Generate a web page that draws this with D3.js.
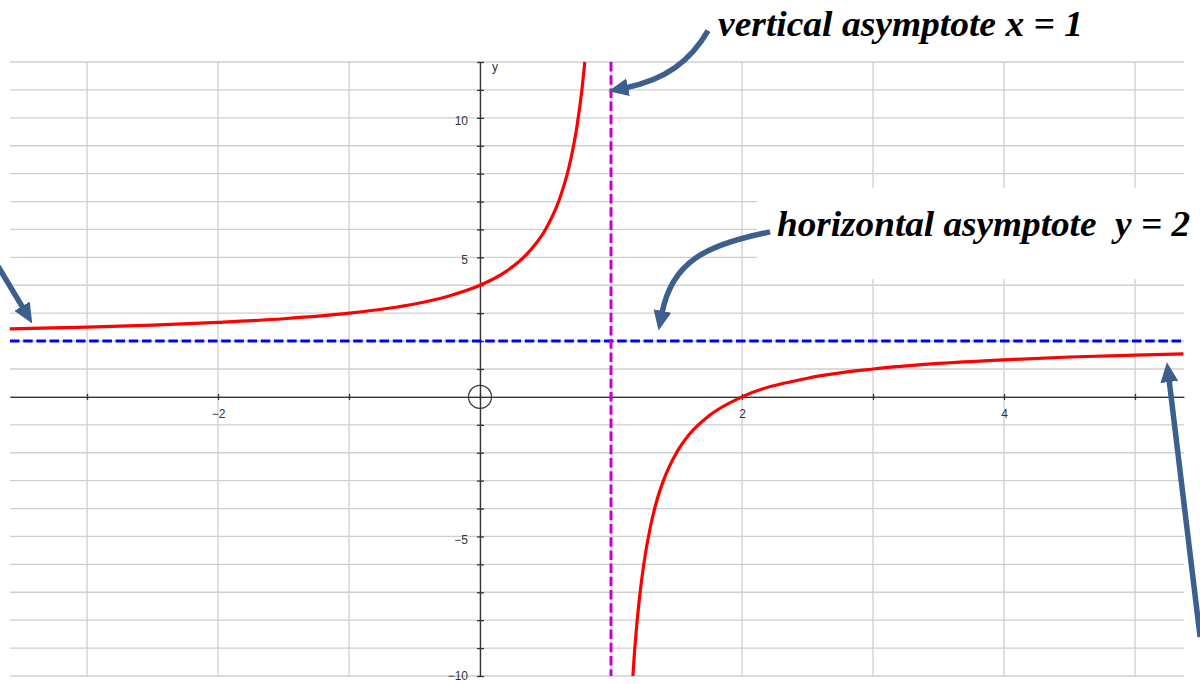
<!DOCTYPE html>
<html>
<head>
<meta charset="utf-8">
<script src="https://cdn.jsdelivr.net/npm/d3@7"></script>
<style>
  body { margin: 0; background: #fff; }
  svg { display: block; }
</style>
</head>
<body>
<div id="chart"></div>
<script>
// grid / ticks
const xTicks = [-3, -2, -1, 0, 1, 2, 3, 4, 5];
const xTickLabels = [-2, 2, 4];
const yTicks = [-10, -9, -8, -7, -6, -5, -4, -3, -2, -1, 0, 1, 2, 3, 4, 5, 6, 7, 8, 9, 10, 11, 12];
const yTickLabels = [-10, -5, 5, 10];

// curve, left branch (x < 1)
const leftX = [-3.59, -3, -2.5, -2, -1.5, -1, -0.5, -0.25, 0, 0.2, 0.35, 0.5, 0.6, 0.68, 0.74, 0.78, 0.8];
const leftY = [2.44, 2.5, 2.57, 2.67, 2.8, 3.0, 3.33, 3.6, 4.0, 4.5, 5.08, 6.0, 7.0, 8.25, 9.69, 11.09, 12.0];
// right branch (x > 1)
const rightX = [1.167, 1.18, 1.2, 1.22, 1.25, 1.3, 1.35, 1.4, 1.5, 1.6, 1.75, 2, 2.5, 3, 3.5, 4, 4.5, 5, 5.37];
const rightY = [-10.0, -9.11, -8.0, -7.09, -6.0, -4.67, -3.71, -3.0, -2.0, -1.33, -0.67, 0, 0.67, 1.0, 1.2, 1.33, 1.43, 1.5, 1.54];

// asymptotes
const vAsymptote = 1;
const hAsymptote = 2;

const width = 1200;
const height = 684;

const x = d3.scaleLinear().domain([-3.588, 5.374]).range([10, 1184]);
const y = d3.scaleLinear().domain([-10, 12]).range([676, 62]);

const svg = d3.select('#chart')
    .append('svg')
    .attr('width', width)
    .attr('height', height);

// grid
const grid = svg.append('g').attr('class', 'grid')
    .attr('stroke', '#cfcfcf')
    .attr('stroke-width', 1.3);

grid.selectAll('.vline')
    .data(xTicks)
    .enter()
    .append('line')
    .attr('class', 'vline')
    .attr('x1', function (d) { return x(d); })
    .attr('x2', function (d) { return x(d); })
    .attr('y1', y(12))
    .attr('y2', y(-10));

grid.selectAll('.hline')
    .data(yTicks)
    .enter()
    .append('line')
    .attr('class', 'hline')
    .attr('x1', x.range()[0])
    .attr('x2', x.range()[1])
    .attr('y1', function (d) { return y(d); })
    .attr('y2', function (d) { return y(d); });

// white box behind the horizontal asymptote note
svg.append('rect')
    .attr('x', 757)
    .attr('y', 188)
    .attr('width', width - 757)
    .attr('height', 91)
    .attr('fill', '#fff');

// axes
const xAxis = d3.axisBottom(x)
    .tickValues(xTicks)
    .tickSizeInner(3)
    .tickSizeOuter(0)
    .tickPadding(10)
    .tickFormat(function (d) {
        return xTickLabels.indexOf(d) >= 0 ? d3.format('')(d) : '';
    });

const yAxis = d3.axisLeft(y)
    .tickValues(yTicks.filter(function (d) { return d !== 0; }))
    .tickSizeInner(3)
    .tickSizeOuter(0)
    .tickPadding(9)
    .tickFormat(function (d) {
        return yTickLabels.indexOf(d) >= 0 ? d3.format('')(d) : '';
    });

const gx = svg.append('g')
    .attr('transform', 'translate(0,' + y(0) + ')')
    .call(xAxis);

const gy = svg.append('g')
    .attr('transform', 'translate(' + x(0) + ',0)')
    .call(yAxis);

[gx, gy].forEach(function (g) {
    g.select('.domain').attr('stroke', '#333').attr('stroke-width', 1.3);
    g.selectAll('.tick line').attr('stroke', '#333').attr('stroke-width', 1.3);
    g.selectAll('.tick text')
        .attr('fill', '#333')
        .style('font-family', 'Liberation Sans, Arial, sans-serif')
        .style('font-size', '12px');
});
gx.selectAll('.tick line').attr('y1', -3).attr('y2', 3);
gy.selectAll('.tick line').attr('x1', -3).attr('x2', 4);
gy.selectAll('.tick text').attr('dy', function (d) {
    // bottom label sits on the edge, keep it inside
    return d === -10 ? '0.3em' : '0.55em';
});

svg.append('text')
    .attr('x', x(0) + 12)
    .attr('y', y(12) + 9)
    .attr('fill', '#333')
    .style('font-family', 'Liberation Sans, Arial, sans-serif')
    .style('font-size', '12px')
    .text('y');

// origin marker
svg.append('circle')
    .attr('cx', x(0))
    .attr('cy', y(0))
    .attr('r', 11.5)
    .attr('fill', 'none')
    .attr('stroke', '#333')
    .attr('stroke-width', 1.2);

// asymptotes
svg.append('line')
    .attr('x1', x.range()[0])
    .attr('x2', x.range()[1])
    .attr('y1', y(hAsymptote))
    .attr('y2', y(hAsymptote))
    .attr('stroke', '#0000ff')
    .attr('stroke-width', 3)
    .attr('stroke-dasharray', '9.5,3.7');

svg.append('line')
    .attr('x1', x(vAsymptote))
    .attr('x2', x(vAsymptote))
    .attr('y1', y(12))
    .attr('y2', y(-10))
    .attr('stroke', '#cc00cc')
    .attr('stroke-width', 3)
    .attr('stroke-dasharray', '9.5,3.7');

// curve
const line = d3.line()
    .x(function (d) { return x(d[0]); })
    .y(function (d) { return y(d[1]); })
    .curve(d3.curveMonotoneX);

const branches = [d3.zip(leftX, leftY), d3.zip(rightX, rightY)];

svg.selectAll('.branch')
    .data(branches)
    .enter()
    .append('path')
    .attr('class', 'branch')
    .attr('d', line)
    .attr('fill', 'none')
    .attr('stroke', '#ff0000')
    .attr('stroke-width', 3.2);

// arrows: tip in data coords, path as pixel offsets from the tip
const arrowColor = '#3c5f8e';
svg.append('defs').append('marker')
    .attr('id', 'head')
    .attr('markerUnits', 'userSpaceOnUse')
    .attr('viewBox', '0 -10 20 20')
    .attr('refX', 2)
    .attr('refY', 0)
    .attr('markerWidth', 20)
    .attr('markerHeight', 20)
    .attr('orient', 'auto')
    .append('path')
    .attr('d', 'M0,-9L20,0L0,9Z')
    .attr('fill', arrowColor);

const arrows = [
    { tip: [0.985, 10.9], d: [[99, -62], [81, -31], [56, -13], [17, -5]] },
    { tip: [1.336, 2.4], d: [[115, -98], [50, -85], [17, -68], [7, -17]] },
    { tip: [-3.42, 2.65], d: [[-36, -60], [-9, -15]] },
    { tip: [5.245, 1.25], d: [[33, 275], [2, 18]] }
];

svg.selectAll('.arrow')
    .data(arrows)
    .enter()
    .append('path')
    .attr('class', 'arrow')
    .attr('d', function (a) {
        const tx = x(a.tip[0]);
        const ty = y(a.tip[1]);
        const p = a.d.map(function (o) { return (tx + o[0]) + ',' + (ty + o[1]); });
        if (p.length === 4) {
            return 'M' + p[0] + 'C' + p[1] + ' ' + p[2] + ' ' + p[3];
        }
        return 'M' + p[0] + 'L' + p[1];
    })
    .attr('fill', 'none')
    .attr('stroke', arrowColor)
    .attr('stroke-width', 5.5)
    .attr('marker-end', 'url(#head)');

// notes
const notes = svg.append('g')
    .style('font-family', 'Liberation Serif, Times New Roman, serif')
    .style('font-weight', 'bold')
    .style('font-style', 'italic')
    .style('font-size', '35px')
    .attr('fill', '#000');

notes.append('text')
    .attr('x', 718)
    .attr('y', 36)
    .attr('textLength', 365)
    .attr('lengthAdjust', 'spacingAndGlyphs')
    .text('vertical asymptote x = 1');

notes.append('text')
    .attr('x', 777)
    .attr('y', 236)
    .attr('textLength', 413)
    .attr('lengthAdjust', 'spacingAndGlyphs')
    .attr('xml:space', 'preserve')
    .style('white-space', 'pre')
    .text('horizontal asymptote  y = 2');
</script>
</body>
</html>
